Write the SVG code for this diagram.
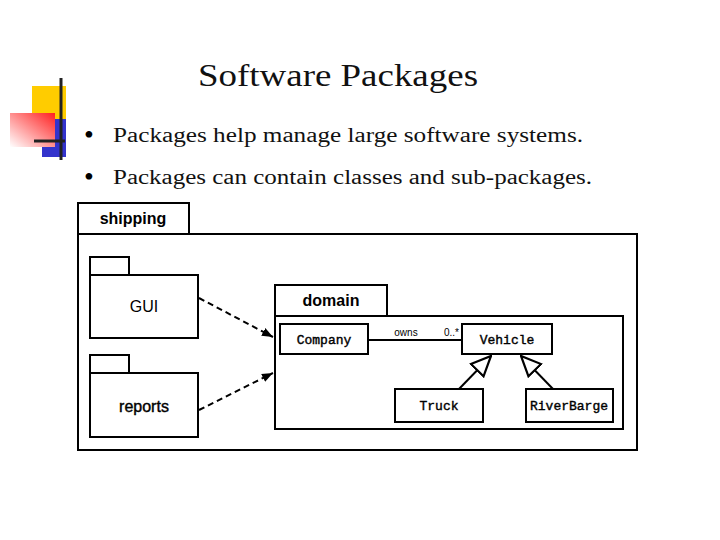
<svg xmlns="http://www.w3.org/2000/svg" width="720" height="540" viewBox="0 0 720 540">
<defs>
<linearGradient id="redg" x1="1" y1="0" x2="0" y2="1">
<stop offset="0" stop-color="#ff2020"/>
<stop offset="1" stop-color="#ffffff"/>
</linearGradient>
<marker id="filled" viewBox="0 0 10 10" refX="10" refY="5" markerWidth="11" markerHeight="11" markerUnits="userSpaceOnUse" orient="auto">
<path d="M0,1 L10,5 L0,9 z" fill="#000"/>
</marker>
<marker id="hollow" viewBox="0 0 20 20" refX="19" refY="10" markerWidth="22" markerHeight="22" markerUnits="userSpaceOnUse" orient="auto">
<path d="M1,2 L19,10 L1,18 z" fill="#fff" stroke="#000" stroke-width="2"/>
</marker>
</defs>
<style>
.box{fill:#fff;stroke:#000;stroke-width:2}
.pk{font-family:"Liberation Sans",Arial,sans-serif;font-size:16px;fill:#000;text-anchor:middle}
.cls{font-family:"Liberation Mono","Courier New",monospace;font-size:13px;fill:#000;stroke:#000;stroke-width:0.4;text-anchor:middle}
.bul{font-family:"Liberation Serif","Times New Roman",serif;font-size:20px;fill:#111}
.dot{font-family:"Liberation Serif","Times New Roman",serif;font-size:28px;fill:#000}
.dash{fill:none;stroke:#000;stroke-width:2;stroke-dasharray:6,4}
.line{fill:none;stroke:#000;stroke-width:2}
</style>
<rect width="720" height="540" fill="#fff"/>
<g id="logo">
<rect x="32" y="86" width="34" height="33" fill="#ffcc00"/>
<rect x="42" y="119" width="24" height="38" fill="#3333cc"/>
<rect x="10" y="113" width="45" height="34" fill="url(#redg)"/>
<line x1="61" y1="78" x2="61" y2="160" stroke="#222" stroke-width="3"/>
<line x1="34" y1="141" x2="65" y2="141" stroke="#222" stroke-width="3"/>
</g>
<text x="338" y="86" font-family="'Liberation Serif','Times New Roman',serif" font-size="32" fill="#111" text-anchor="middle" textLength="280" lengthAdjust="spacingAndGlyphs">Software Packages</text>
<g id="bullets">
<text x="84" y="144" class="dot">•</text>
<text x="113" y="142" class="bul" textLength="470" lengthAdjust="spacingAndGlyphs">Packages help manage large software systems.</text>
<text x="84" y="186" class="dot">•</text>
<text x="113" y="184" class="bul" textLength="479" lengthAdjust="spacingAndGlyphs">Packages can contain classes and sub-packages.</text>
</g>
<g id="shipping">
<rect class="box" x="78" y="203" width="111" height="31"/>
<rect class="box" x="78" y="234" width="559" height="216"/>
<text class="pk" x="133" y="224" font-weight="bold" font-size="15">shipping</text>
</g>
<g id="GUI">
<rect class="box" x="90" y="257" width="39" height="18"/>
<rect class="box" x="90" y="275" width="108" height="63"/>
<text class="pk" x="144" y="312">GUI</text>
</g>
<g id="reports">
<rect class="box" x="90" y="355" width="39" height="18"/>
<rect class="box" x="90" y="373" width="108" height="64"/>
<text class="pk" x="144" y="412" stroke="#000" stroke-width="0.4">reports</text>
</g>
<g id="domain">
<rect class="box" x="275" y="285" width="112" height="31"/>
<rect class="box" x="275" y="316" width="348" height="113"/>
<text class="pk" x="331" y="306" font-weight="bold">domain</text>
</g>
<g id="Company">
<rect class="box" x="280" y="324" width="88" height="30"/>
<text class="cls" x="324" y="344">Company</text>
</g>
<g id="Vehicle">
<rect class="box" x="462" y="324" width="90" height="30"/>
<text class="cls" x="507" y="344">Vehicle</text>
</g>
<g id="Truck">
<rect class="box" x="395" y="389" width="88" height="33"/>
<text class="cls" x="439" y="410">Truck</text>
</g>
<g id="RiverBarge">
<rect class="box" x="526" y="389" width="87" height="33"/>
<text class="cls" x="569" y="410">RiverBarge</text>
</g>
<g id="connectors">
<path class="dash" d="M199,298 L273,337" marker-end="url(#filled)"/>
<path class="dash" d="M199,410 L273,373" marker-end="url(#filled)"/>
<line class="line" x1="368" y1="340" x2="462" y2="340"/>
<path class="line" d="M459,389 L491,356" marker-end="url(#hollow)"/>
<path class="line" d="M553,389 L521,356" marker-end="url(#hollow)"/>
<text x="406" y="336" font-family="'Liberation Sans',Arial,sans-serif" font-size="10" text-anchor="middle">owns</text>
<text x="444" y="336" font-family="'Liberation Sans',Arial,sans-serif" font-size="10">0..*</text>
</g>
</svg>
